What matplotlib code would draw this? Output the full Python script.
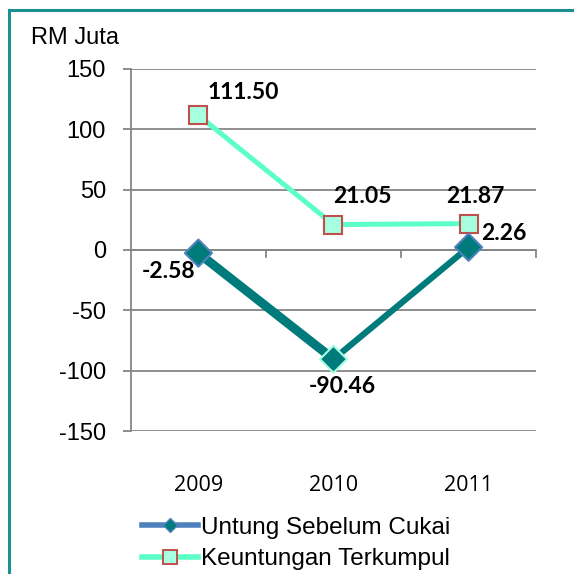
import matplotlib.pyplot as plt
from matplotlib.lines import Line2D

years = ['2009', '2010', '2011']
untung = [-2.58, -90.46, 2.26]
keuntungan = [111.50, 21.05, 21.87]
untung_labels = ['-2.58', '-90.46', '2.26']
keuntungan_labels = ['111.50', '21.05', '21.87']
yticks = [-150, -100, -50, 0, 50, 100, 150]


def main():
    fig = plt.figure(figsize=(5.74, 5.74), dpi=100)
    ax = fig.add_axes([0.228, 0.249, 0.706, 0.631])

    x = list(range(len(years)))

    # border of the chart area (only top and left visible)
    fig.add_artist(Line2D([0.016, 0.016], [0, 0.983], color='#1A9090', lw=2.2))
    fig.add_artist(Line2D([0.016, 1.0], [0.983, 0.983], color='#1A9090', lw=2.2))

    # Keuntungan Terkumpul
    ax.plot(x, keuntungan, color='#5CFFC8', lw=3.6, zorder=3)
    ax.plot(x, keuntungan, ls='none', marker='s', ms=13.5, mfc='#A6FFE0',
            mec='#C0504D', mew=1.5, zorder=5)

    # Untung Sebelum Cukai, first segment drawn heavier
    ax.plot(x[:2], untung[:2], color='#007B7B', lw=6.5, solid_capstyle='butt', zorder=4)
    ax.plot(x[1:], untung[1:], color='#007B7B', lw=4.5, solid_capstyle='butt', zorder=4)
    ax.scatter(x, untung, marker='D', s=190, c='#007B7B',
               edgecolors=['#4F81BD', '#A6FFE0', '#4F81BD'], linewidths=1.5, zorder=6)

    bold = dict(fontsize=16.5, fontweight='bold', family='Lato', color='black',
                textcoords='offset points', va='center')
    ax.annotate(keuntungan_labels[0], (x[0], keuntungan[0]), xytext=(6.5, 16.5), ha='left', **bold)
    ax.annotate(keuntungan_labels[1], (x[1], keuntungan[1]), xytext=(0, 20), ha='left', **bold)
    ax.annotate(keuntungan_labels[2], (x[2], keuntungan[2]), xytext=(5, 19.5), ha='center', **bold)
    ax.annotate(untung_labels[0], (x[0], untung[0]), xytext=(-2, -13), ha='right', **bold)
    ax.annotate(untung_labels[1], (x[1], untung[1]), xytext=(6, -20), ha='center', **bold)
    ax.annotate(untung_labels[2], (x[2], untung[2]), xytext=(9, 10), ha='left', **bold)

    ax.set_xlim(-0.5, len(years) - 0.5)
    ax.set_ylim(-150, 150)
    ax.set_yticks(yticks)
    ax.set_yticklabels([str(v) for v in yticks], family='Liberation Sans', fontsize=17)
    ax.grid(axis='y', color='#868686', lw=1.3)
    ax.set_axisbelow(True)
    ax.tick_params(axis='y', length=6, width=1.3, color='#868686', pad=12)

    # category axis crosses at zero, labels sit below the plot
    ax.set_xticks([])
    ax.axhline(0, color='#868686', lw=1.3, zorder=2)
    for b in [i + 0.5 for i in x]:
        ax.plot([b, b], [0, -6], color='#868686', lw=1.3, zorder=2, clip_on=False)
    for xi, yr in zip(x, years):
        ax.annotate(yr, (xi, -150), xytext=(0, -39), textcoords='offset points',
                    ha='center', va='center', family='Open Sans', fontsize=15.5,
                    annotation_clip=False)

    for s in ['top', 'right', 'bottom']:
        ax.spines[s].set_visible(False)
    ax.spines['left'].set_color('#868686')
    ax.spines['left'].set_linewidth(1.3)

    fig.text(0.054, 0.923, 'RM Juta', family='Liberation Sans', fontsize=17, va='baseline')

    handles = [
        Line2D([], [], color='#4F81BD', lw=4, marker='D', ms=7.5, mfc='#007B7B', mec='#4F81BD'),
        Line2D([], [], color='#5CFFC8', lw=4, marker='s', ms=9.5, mfc='#A6FFE0', mec='#C0504D', mew=1.4),
    ]
    fig.legend(handles, ['Untung Sebelum Cukai', 'Keuntungan Terkumpul'],
               loc='center left', bbox_to_anchor=(0.247, 0.053), frameon=False,
               prop={'family': 'Liberation Sans', 'size': 17.5}, handlelength=2.3,
               handletextpad=0.15, labelspacing=0.38, borderaxespad=0, borderpad=0)

    fig.savefig('out.png', dpi=100)


if __name__ == "__main__":
    main()
